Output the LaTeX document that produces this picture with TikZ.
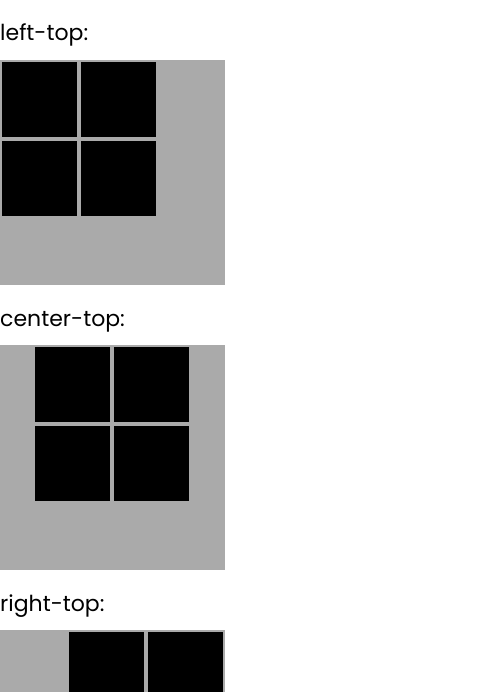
\documentclass[tikz,border=0pt]{standalone}
\usepackage{fontspec}
\setmainfont{Poppins}
\definecolor{boxgray}{HTML}{AAAAAA}
\begin{document}
\begin{tikzpicture}[x=1pt, y=-1pt, every node/.style={font=\fontsize{22}{26}\selectfont, inner sep=0pt, anchor=base west}]
  \useasboundingbox (0,0) rectangle (480,692);
  % left-top
  \node (lefttop) at (0,41) {left-top:};
  \fill[boxgray] (0,60) rectangle (225,285);
  \fill[black] (2,62) rectangle (77,137);
  \fill[black] (81,62) rectangle (156,137);
  \fill[black] (2,141) rectangle (77,216);
  \fill[black] (81,141) rectangle (156,216);
  % center-top
  \node (centertop) at (0,326) {center-top:};
  \fill[boxgray] (0,345) rectangle (225,570);
  \fill[black] (35,347) rectangle (110,422);
  \fill[black] (114,347) rectangle (189,422);
  \fill[black] (35,426) rectangle (110,501);
  \fill[black] (114,426) rectangle (189,501);
  % right-top
  \node (righttop) at (0,611) {right-top:};
  \fill[boxgray] (0,630) rectangle (225,855);
  \fill[black] (69,632) rectangle (144,707);
  \fill[black] (148,632) rectangle (223,707);
  \fill[black] (69,711) rectangle (144,786);
  \fill[black] (148,711) rectangle (223,786);
\end{tikzpicture}
\end{document}
